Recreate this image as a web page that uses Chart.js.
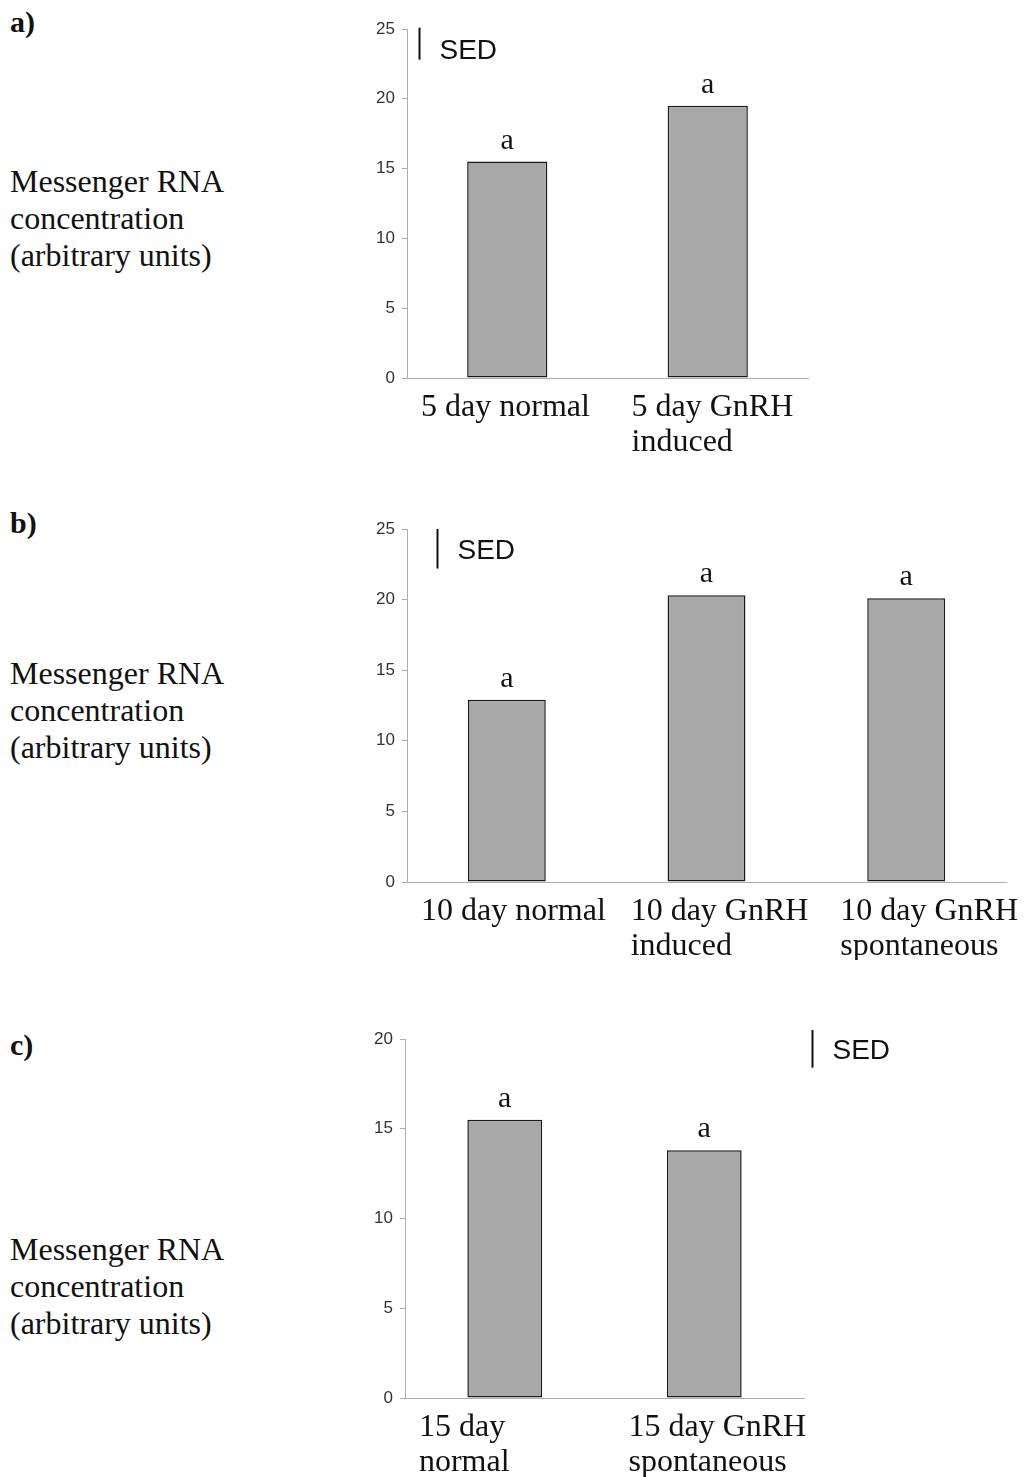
<!DOCTYPE html>
<html>
<head>
<meta charset="utf-8">
<script src="https://cdn.jsdelivr.net/npm/chart.js@4.4.1/dist/chart.umd.min.js"></script>
<style>
  body { margin: 0; background: #fff; }
  #page { position: relative; width: 1030px; height: 1477px; overflow: hidden; background: #fff; }
  canvas { position: absolute; left: 0; }
  .tag { position: absolute; left: 10px; font: bold 30px "Liberation Serif", "Times New Roman", serif; line-height: 30px; color: #111; }
  .ytitle { position: absolute; left: 10px; font: 32px "Liberation Serif", "Times New Roman", serif; line-height: 37px; color: #111; white-space: nowrap; }
</style>
</head>
<body>
<div id="page">
  <div class="tag" style="top:7px">a)</div>
  <div class="ytitle" style="top:163px">Messenger RNA<br>concentration<br>(arbitrary units)</div>
  <canvas id="chartA" width="1030" height="460" style="top:0px"></canvas>

  <div class="tag" style="top:508px">b)</div>
  <div class="ytitle" style="top:655px">Messenger RNA<br>concentration<br>(arbitrary units)</div>
  <canvas id="chartB" width="1030" height="460" style="top:500px"></canvas>

  <div class="tag" style="top:1030px">c)</div>
  <div class="ytitle" style="top:1231px">Messenger RNA<br>concentration<br>(arbitrary units)</div>
  <canvas id="chartC" width="1030" height="467" style="top:1010px"></canvas>
</div>

<script>
// panel a
const labelsA = [["5 day normal"], ["5 day GnRH", "induced"]];
const valuesA = [15.5, 19.5];
const lettersA = ["a", "a"];
const sedA = 2.3;

// panel b
const labelsB = [["10 day normal"], ["10 day GnRH", "induced"], ["10 day GnRH", "spontaneous"]];
const valuesB = [12.9, 20.3, 20.1];
const lettersB = ["a", "a", "a"];
const sedB = 2.8;

// panel c
const labelsC = [["15 day", "normal"], ["15 day GnRH", "spontaneous"]];
const valuesC = [15.5, 13.8];
const lettersC = ["a", "a"];
const sedC = 2.1;

const serif = '"Liberation Serif", "Times New Roman", serif';
const sans = '"Liberation Sans", Arial, sans-serif';
const axisGrey = "#adadad";

function makeChart(id, labels, values, letters, sed, cfg) {
  // letters over bars, wrapped category labels and the SED marker
  const extras = {
    id: "extras",
    afterDatasetsDraw(chart) {
      const ctx = chart.ctx;
      const area = chart.chartArea;
      const xs = chart.scales.x, ys = chart.scales.y;
      const bars = chart.getDatasetMeta(0).data;
      ctx.save();
      ctx.fillStyle = "#111";

      ctx.font = "30px " + serif;
      ctx.textAlign = "center";
      ctx.textBaseline = "alphabetic";
      bars.forEach((b, i) => ctx.fillText(letters[i], b.x, b.y - 13));

      ctx.font = "32px " + serif;
      ctx.textAlign = "left";
      const slot = (area.right - area.left) / labels.length;
      labels.forEach((lines, i) => {
        const x0 = xs.getPixelForValue(i) - 0.43 * slot + i * 0.05 * slot;
        lines.forEach((t, k) => ctx.fillText(t, x0, area.bottom + 38 + k * 35));
      });

      const sx = Math.round(area.left + cfg.sedX * (area.right - area.left)) + 0.5;
      const y1 = ys.getPixelForValue(cfg.sedTop);
      const y2 = ys.getPixelForValue(cfg.sedTop - sed);
      ctx.strokeStyle = "#111";
      ctx.lineWidth = 2;
      ctx.beginPath();
      ctx.moveTo(sx, y1);
      ctx.lineTo(sx, y2);
      ctx.stroke();
      ctx.font = "28px " + sans;
      ctx.textBaseline = "middle";
      ctx.fillText("SED", sx + 20, (y1 + y2) / 2 + cfg.sedDy);
      ctx.restore();
    }
  };

  return new Chart(document.getElementById(id), {
    type: "bar",
    data: {
      labels: labels,
      datasets: [{
        data: values,
        backgroundColor: "#a8a8a8",
        borderColor: "#1a1a1a",
        borderWidth: 1.5,
        borderSkipped: false,
        barPercentage: cfg.barPct,
        categoryPercentage: 1
      }]
    },
    options: {
      responsive: false,
      animation: false,
      events: [],
      layout: { padding: cfg.padding },
      plugins: { legend: { display: false }, tooltip: { enabled: false } },
      scales: {
        x: {
          grid: { display: false, drawTicks: false },
          ticks: { display: false },
          border: { color: axisGrey, width: 1 },
          afterFit: s => { s.height = 0; }
        },
        y: {
          min: 0,
          max: cfg.yMax,
          ticks: { stepSize: 5, padding: 7, color: "#333", font: { family: sans, size: 17 } },
          grid: { drawOnChartArea: false, tickLength: 5, color: axisGrey },
          border: { color: axisGrey, width: 1 },
          afterFit: s => { s.width = 60; }
        }
      }
    },
    plugins: [extras]
  });
}

makeChart("chartA", labelsA, valuesA, lettersA, sedA, {
  yMax: 25, barPct: 0.4, sedTop: 25.1, sedX: 0.03, sedDy: 8,
  padding: { left: 347, right: 222, top: 29, bottom: 82 }
});

makeChart("chartB", labelsB, valuesB, lettersB, sedB, {
  yMax: 25, barPct: 0.39, sedTop: 25.0, sedX: 0.05, sedDy: 3,
  padding: { left: 347, right: 24, top: 29, bottom: 78 }
});

makeChart("chartC", labelsC, valuesC, lettersC, sedC, {
  yMax: 20, barPct: 0.375, sedTop: 20.5, sedX: 1.02, sedDy: 2,
  padding: { left: 345, right: 226, top: 29, bottom: 79 }
});
</script>
</body>
</html>
